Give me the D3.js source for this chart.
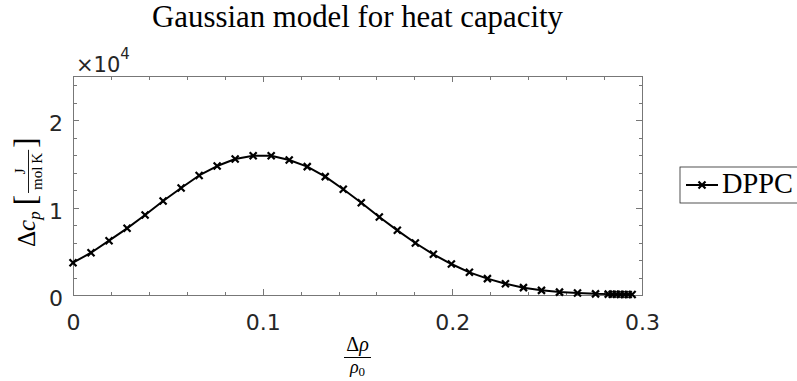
<!DOCTYPE html>
<html><head><meta charset="utf-8">
<script src="https://cdn.jsdelivr.net/npm/d3@7"></script>
<style>body{margin:0;background:#fff} svg{display:block}</style>
</head><body><svg id="c" width="797" height="381"></svg>
<script>
const titleText = "Gaussian model for heat capacity";
const seriesName = "DPPC";
const deltaRho = [0.0000, 0.0095, 0.0190, 0.0285, 0.0380, 0.0475, 0.0570, 0.0665, 0.0760, 0.0855,
  0.0950, 0.1045, 0.1140, 0.1235, 0.1330, 0.1425, 0.1520, 0.1615, 0.1710, 0.1805,
  0.1900, 0.1995, 0.2090, 0.2185, 0.2280, 0.2375, 0.2470, 0.2565, 0.2660, 0.2755,
  0.2822, 0.2843, 0.2864, 0.2885, 0.2906, 0.2927, 0.2948];
const deltaCp = [3690, 4830, 6210, 7620, 9140, 10740, 12230, 13660, 14740, 15540,
  15920, 15920, 15430, 14670, 13530, 12080, 10550, 8910, 7390, 5940,
  4650, 3540, 2590, 1870, 1290, 840, 530, 330, 220, 130,
  100, 90, 80, 70, 60, 55, 50];
const xTicks = [0, 0.1, 0.2, 0.3];
const xTickLabels = ["0", "0.1", "0.2", "0.3"];
const xMinorTicks = [0.02,0.04,0.06,0.08,0.12,0.14,0.16,0.18,0.22,0.24,0.26,0.28];
const yTicks = [0, 10000, 20000];
const yTickLabels = ["0", "1", "2"];
const yMinorTicks = [2000,4000,6000,8000,12000,14000,16000,18000,22000,24000];
const yExponent = "4";

const svg = d3.select("#c");
const L = 73, R = 642, T = 76.25, B = 295;
const x = d3.scaleLinear().domain([0, 0.3]).range([L, R]);
const y = d3.scaleLinear().domain([0, 25000]).range([B, T]);
const axisCol = "#262626", lineCol = "#777";
const sans = "DejaVu Sans", serif = "Liberation Serif";

function fitText(sel, width) {
  const fs = parseFloat(sel.attr("font-size"));
  const w = sel.node().getComputedTextLength();
  sel.attr("font-size", fs * width / w);
}

// ticks (inward) on all four sides
function axis(gen, tr, size) {
  const g = svg.append("g").attr("transform", tr).call(gen.tickSize(size));
  g.select(".domain").remove();
  g.selectAll(".tick line").attr("stroke", lineCol).attr("shape-rendering", "crispEdges");
  return g;
}
const xb = axis(d3.axisBottom(x).tickValues(xTicks).tickPadding(19).tickFormat((d,i)=>xTickLabels[i]), `translate(0,${B})`, -6);
xb.selectAll("text").attr("font-family", sans).attr("font-size", 22).attr("fill", axisCol);
axis(d3.axisBottom(x).tickValues(xMinorTicks).tickFormat(""), `translate(0,${B})`, -3.5);
axis(d3.axisTop(x).tickValues(xTicks).tickFormat(""), `translate(0,${T})`, -6);
axis(d3.axisTop(x).tickValues(xMinorTicks).tickFormat(""), `translate(0,${T})`, -3.5);
const yl = axis(d3.axisLeft(y).tickValues(yTicks).tickPadding(10).tickFormat((d,i)=>yTickLabels[i]), `translate(${L},0)`, -6);
yl.selectAll("text").attr("font-family", sans).attr("font-size", 22).attr("fill", axisCol).attr("dy", "0.48em");
axis(d3.axisLeft(y).tickValues(yMinorTicks).tickFormat(""), `translate(${L},0)`, -3.5);
axis(d3.axisRight(y).tickValues(yTicks).tickFormat(""), `translate(${R},0)`, -6);
axis(d3.axisRight(y).tickValues(yMinorTicks).tickFormat(""), `translate(${R},0)`, -3.5);

svg.append("rect").attr("x", L).attr("y", T).attr("width", R - L).attr("height", B - T)
  .attr("fill", "none").attr("stroke", lineCol).attr("stroke-width", 1).attr("shape-rendering", "crispEdges");

// exponent
const ex = svg.append("text").attr("x", 76).attr("y", 72).attr("font-family", sans)
  .attr("font-size", 21).attr("fill", axisCol);
ex.append("tspan").text("\u00d710");
ex.append("tspan").attr("font-size", 15).attr("dy", -13).text(yExponent);

// data
const pts = deltaRho.map((d, i) => [d, deltaCp[i]]);
svg.append("path").datum(pts)
  .attr("d", d3.line().x(d => x(d[0])).y(d => y(d[1])))
  .attr("fill", "none").attr("stroke", "#000").attr("stroke-width", 2).attr("stroke-linejoin", "round");
const mk = "M-3.5,-3.5L3.5,3.5M-3.5,3.5L3.5,-3.5";
svg.append("g").selectAll("path").data(pts).join("path")
  .attr("transform", d => `translate(${x(d[0])},${y(d[1])})`)
  .attr("d", mk).attr("stroke", "#000").attr("stroke-width", 2.2).attr("fill", "none");

// title
const tt = svg.append("text").attr("x", (L + R) / 2).attr("y", 27).attr("text-anchor", "middle")
  .attr("font-family", serif).attr("font-size", 28).attr("fill", "#000").text(titleText);
fitText(tt, 411);

// x label: fraction Δρ / ρ0
const xc = (L + R) / 2;
const xn = svg.append("text").attr("x", xc).attr("y", 351).attr("text-anchor", "middle")
  .attr("font-family", serif).attr("font-size", 20).attr("fill", "#000");
xn.append("tspan").text("\u0394");
xn.append("tspan").attr("font-style", "italic").text("\u03c1");
svg.append("line").attr("x1", xc - 13.5).attr("x2", xc + 13.5).attr("y1", 357.5).attr("y2", 357.5)
  .attr("stroke", "#000").attr("stroke-width", 1);
const xd = svg.append("text").attr("x", xc).attr("y", 373).attr("text-anchor", "middle")
  .attr("font-family", serif).attr("font-size", 18).attr("fill", "#000");
xd.append("tspan").attr("font-style", "italic").text("\u03c1");
xd.append("tspan").attr("font-size", 13).attr("dy", 3).text("0");

// y label rotated: Δc_p [ J / mol K ]
const yg = svg.append("g").attr("transform", "translate(35,247) rotate(-90)");
const y1 = yg.append("text").attr("x", 0).attr("y", 0).attr("font-family", serif)
  .attr("font-size", 25).attr("fill", "#000");
y1.append("tspan").text("\u0394");
y1.append("tspan").attr("font-style", "italic").text("c");
y1.append("tspan").attr("font-style", "italic").attr("font-size", 17).attr("dy", 5).text("p");
const w1 = y1.node().getComputedTextLength();
const lb = yg.append("text").attr("x", w1 + 6).attr("y", 1).attr("font-family", serif)
  .attr("font-size", 31).attr("fill", "#000").text("[");
const lbw = lb.node().getComputedTextLength();
const fx0 = w1 + 6 + lbw + 2;
const den = yg.append("text").attr("x", 0).attr("y", 7).attr("font-family", serif)
  .attr("font-size", 15).attr("fill", "#000").text("mol\u2009K");
const dw = den.node().getComputedTextLength();
const fw = dw + 6;
den.attr("x", fx0 + fw / 2).attr("text-anchor", "middle");
yg.append("text").attr("x", fx0 + fw / 2).attr("y", -10).attr("text-anchor", "middle")
  .attr("font-family", serif).attr("font-size", 15).attr("fill", "#000").text("J");
yg.append("line").attr("x1", fx0).attr("x2", fx0 + fw).attr("y1", -6.5).attr("y2", -6.5)
  .attr("stroke", "#000").attr("stroke-width", 0.9);
yg.append("text").attr("x", fx0 + fw + 2).attr("y", 1).attr("font-family", serif)
  .attr("font-size", 31).attr("fill", "#000").text("]");

// legend
svg.append("rect").attr("x", 680).attr("y", 167).attr("width", 130).attr("height", 36)
  .attr("fill", "#fff").attr("stroke", axisCol).attr("stroke-width", 0.8);
svg.append("line").attr("x1", 686).attr("x2", 718).attr("y1", 185).attr("y2", 185)
  .attr("stroke", "#000").attr("stroke-width", 2);
svg.append("path").attr("transform", "translate(702,185)").attr("d", mk)
  .attr("stroke", "#000").attr("stroke-width", 2.2).attr("fill", "none");
const lt = svg.append("text").attr("x", 722).attr("y", 193).attr("font-family", serif)
  .attr("font-size", 27).attr("fill", "#000").text(seriesName);
fitText(lt, 71);
</script></body></html>
